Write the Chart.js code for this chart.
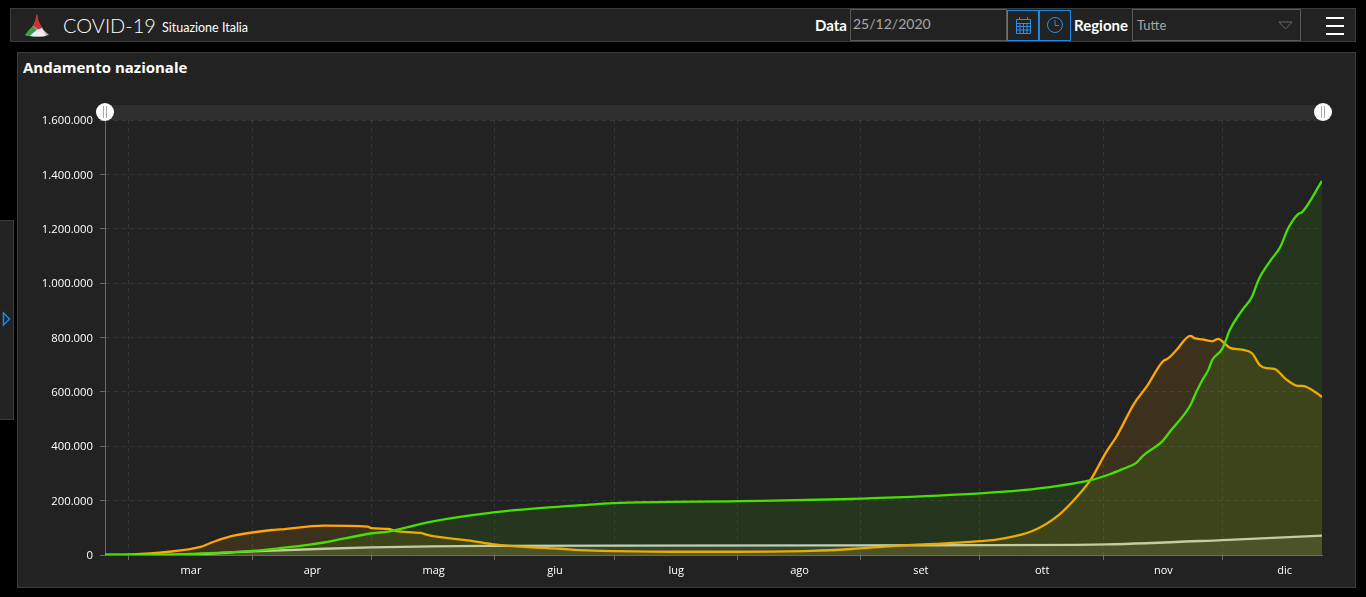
<!DOCTYPE html>
<html>
<head>
<meta charset="utf-8">
<script src="https://cdn.jsdelivr.net/npm/chart.js@4"></script>
<style>
  html, body { margin: 0; width: 1366px; height: 597px; overflow: hidden; background: #000; color: #fff; font-family: Lato, "Open Sans", sans-serif; }
  .abs { position: absolute; box-sizing: border-box; }
  .panel { background: #222; border: 1px solid #3c3c3c; }
  .box { border: 1px solid #5a5a5a; color: #a8a8a8; font-size: 14px; line-height: 27px; padding-left: 2px; }
  .btn { border: 1px solid #1e88e5; }
  .lbl { font-weight: bold; font-size: 15px; }
  .bar { background: #fff; height: 2px; left: 1326px; width: 18px; }
  .handle { width: 18px; height: 18px; border-radius: 50%; background: #fff; top: 103px; }
  .handle i { position: absolute; top: 3px; left: 7px; width: 4px; height: 12px; border-left: 1px solid #aaa; border-right: 1px solid #aaa; box-sizing: border-box; }
  #my-graph { position: absolute; left: 17px; top: 52px; }
</style>
</head>
<body>
<div class="abs panel" style="left:10px;top:8px;width:1346px;height:34px"></div>
<svg class="abs" style="left:24px;top:13px" width="26" height="24" viewBox="0 0 26 24">
  <path d="M13 1 Q13 13 25 22 Q14 25 1 22 Q12 13 13 1 Z" fill="#b9b9b9"/>
  <path d="M12.5 1 Q15 11 19 15 L15 17 Q11 14 9 13 Q12 8 12.5 1 Z" fill="#c9343a"/>
  <path d="M1 22 Q5 16 9 13 L13 17 Q9 20 6 23 Q3 23 1 22 Z" fill="#3f9a4b"/>
  <path d="M13 17 L18 15 Q20 19 22 23 Q14 24 6 23 Q10 19 13 17 Z" fill="#ededed"/>
</svg>
<div class="abs" style="left:63px;top:12px;font-size:20px;line-height:27px;font-weight:300">COVID-19</div>
<div class="abs" style="left:162px;top:20px;font-size:12.5px;line-height:16px">Situazione Italia</div>
<div class="abs lbl" style="left:815px;top:16px">Data</div>
<div class="abs box" style="left:850px;top:9px;width:157px;height:32px">25/12/2020</div>
<div class="abs btn" style="left:1007px;top:10px;width:32px;height:31px">
  <svg width="30" height="29" viewBox="0 0 30 29" fill="none" stroke="#2b8fe6">
    <path d="M8.5 8.5h14v14h-14zM8.5 12.5h14M8.5 15.5h14M8.5 19h14M12 12.5v10M15.5 12.5v10M19 12.5v10"/>
    <path d="M11.5 6v3M19.5 6v3"/>
  </svg>
</div>
<div class="abs btn" style="left:1039px;top:10px;width:32px;height:31px">
  <svg width="30" height="29" viewBox="0 0 30 29" fill="none" stroke="#2b8fe6">
    <circle cx="15" cy="14" r="7.5"/><path d="M15 9v5.5h4"/>
  </svg>
</div>
<div class="abs lbl" style="left:1074px;top:16px">Regione</div>
<div class="abs box" style="left:1132px;top:9px;width:169px;height:32px;padding-left:4px;line-height:31px;font-size:13px">Tutte</div>
<svg class="abs" style="left:1278px;top:21px" width="15" height="10"><path d="M1 1h13l-6.5 7z" fill="none" stroke="#666"/></svg>
<div class="abs bar" style="top:17px"></div>
<div class="abs bar" style="top:25px"></div>
<div class="abs bar" style="top:33px"></div>

<div class="abs panel" style="left:0;top:220px;width:14px;height:200px;border-left:0"></div>
<svg class="abs" style="left:2px;top:311px" width="10" height="16"><path d="M1.5 2 L7.5 8 L1.5 14 Z" fill="none" stroke="#1e88e5" stroke-width="1.5"/></svg>

<div class="abs panel" style="left:17px;top:52px;width:1339px;height:536px"></div>
<div class="abs" style="left:23px;top:58px;font-family:'Open Sans';font-size:15px;line-height:19px;font-weight:bold">Andamento nazionale</div>
<div class="abs" style="left:105px;top:105px;width:1217px;height:15px;background:#2f2f2f"></div>
<canvas id="my-graph" width="1339" height="535"></canvas>
<div class="abs handle" style="left:96px"><i></i></div>
<div class="abs handle" style="left:1314px"><i></i></div>

<script>
// days counted from 24 feb 2020
const positiviDays = [0, 6, 15.5, 24, 27, 32, 42, 44, 55, 66, 67, 71.2, 73.2, 79.3, 81.8, 91.8, 97.3, 107.4, 114.4, 119.4, 127.9, 147.5, 159.5, 177.6, 187.6, 198.1, 220.2, 225.7, 233.3, 239.8, 243.8, 247.8, 251.8, 254.3, 258.8, 261.9, 265.9, 267.4, 269.4, 272.9, 273.9, 275.9, 278.4, 279.9, 280.9, 282.9, 285.9, 288.4, 290.4, 292, 294, 297, 300, 301, 305, 306];
const positivi = [0, 1600, 11000, 30000, 47000, 70000, 92000, 94000, 108000, 104000, 99000, 96000, 88000, 81000, 71000, 53000, 40000, 28000, 23000, 18000, 14500, 12000, 12000, 15000, 22000, 33000, 51000, 60000, 89000, 147000, 205000, 276000, 380000, 435000, 558000, 619000, 711000, 724000, 754000, 806000, 798000, 793000, 786000, 795000, 786000, 762000, 755000, 742000, 698000, 687000, 685000, 646000, 622000, 622000, 592000, 581000];

const guaritiDays = [0, 10, 20, 37, 44, 51, 55, 67.2, 71.2, 81.8, 96.8, 114.4, 119.4, 127.9, 159.5, 187.6, 189.6, 220.2, 232.8, 247.8, 252.8, 255.8, 259.3, 260.9, 265.9, 267.9, 272.9, 274.4, 275.9, 277.4, 278.4, 280.9, 282.9, 285.9, 288.4, 290, 293, 295.5, 297.5, 300, 301, 306];
const guariti = [0, 500, 3000, 15000, 25000, 37000, 46000, 80000, 86000, 122000, 155000, 178000, 183000, 191000, 198000, 206000, 207000, 227000, 241000, 275000, 298000, 316000, 339000, 364000, 419000, 456000, 551000, 600000, 643000, 680000, 717000, 758000, 830000, 900000, 950000, 1011000, 1082000, 1133000, 1202000, 1254000, 1261000, 1376000];

const decedutiDays = [0, 20, 37, 55, 67, 82, 97, 128, 190, 220, 244, 252, 281, 306];
const deceduti = [0, 1500, 13000, 23000, 28000, 32000, 33500, 34700, 35500, 36000, 37000, 39000, 55000, 71000];

const yTicks = [0, 200000, 400000, 600000, 800000, 1000000, 1200000, 1400000, 1600000];
const monthNames = ["mar", "apr", "mag", "giu", "lug", "ago", "set", "ott", "nov", "dic"];
const monthStarts = [6, 37, 67, 98, 128, 159, 190, 220, 251, 281, 312];

const lastDay = 306;

const toPoints = (days, values) => days.map((d, i) => ({ x: d, y: values[i] }));

// month ticks carry the grid, the label sits in the middle of the month
const monthMids = monthNames.map((m, i) => (monthStarts[i] + monthStarts[i + 1]) / 2);
const isMonthStart = (v) => monthStarts.includes(v);

const fmt = (v) => String(v).replace(/\B(?=(\d{3})+(?!\d))/g, ".");

const series = (data, color, fill) => ({
  data: data,
  borderColor: color,
  backgroundColor: fill,
  borderWidth: 2.3,
  pointRadius: 0,
  cubicInterpolationMode: "monotone",
  fill: "origin",
});

const ctx = document.getElementById("my-graph");

new Chart(ctx, {
  type: "line",
  data: {
    datasets: [
      series(toPoints(guaritiDays, guariti), "#47e000", "rgba(76, 220, 0, 0.11)"),
      series(toPoints(positiviDays, positivi), "#ffa600", "rgba(255, 166, 0, 0.12)"),
      series(toPoints(decedutiDays, deceduti), "#cfcfcf", "rgba(200, 200, 200, 0.12)"),
    ],
  },
  options: {
    responsive: false,
    animation: false,
    layout: { padding: { top: 68, right: 34, left: 0, bottom: 0 } },
    plugins: { legend: { display: false }, tooltip: { enabled: false } },
    scales: {
      x: {
        type: "linear",
        min: 0,
        max: lastDay,
        afterBuildTicks: (axis) => {
          axis.ticks = monthStarts.filter((d) => d <= lastDay).concat(monthMids).map((v) => ({ value: v }));
        },
        afterFit: (axis) => { axis.height = 32; },
        border: { color: "#6a6a6a", dash: [4, 4] },
        grid: {
          color: (c) => (c.tick && isMonthStart(c.tick.value) ? "rgba(255, 255, 255, 0.09)" : "transparent"),
          tickColor: (c) => (c.tick && isMonthStart(c.tick.value) ? "#6a6a6a" : "transparent"),
          tickBorderDash: [],
          tickLength: 5,
        },
        ticks: {
          autoSkip: false,
          maxRotation: 0,
          padding: 4,
          labelOffset: 0.5,
          color: "#fff",
          font: { family: "Open Sans", size: 11 },
          callback: (v) => {
            const i = monthMids.indexOf(v);
            return i >= 0 ? monthNames[i] : "";
          },
        },
      },
      y: {
        min: 0,
        max: 1600000,
        afterBuildTicks: (axis) => { axis.ticks = yTicks.map((v) => ({ value: v })); },
        afterFit: (axis) => { axis.width = 88; },
        border: { color: "#6a6a6a", dash: [4, 4] },
        grid: {
          color: "rgba(255, 255, 255, 0.09)",
          tickColor: "#6a6a6a",
          tickBorderDash: [],
          tickLength: 5,
        },
        ticks: {
          padding: 7,
          labelOffset: 1,
          color: "#fff",
          font: { family: "Open Sans", size: 11.3 },
          callback: (v) => fmt(v),
        },
      },
    },
  },
});
</script>
</body>
</html>
